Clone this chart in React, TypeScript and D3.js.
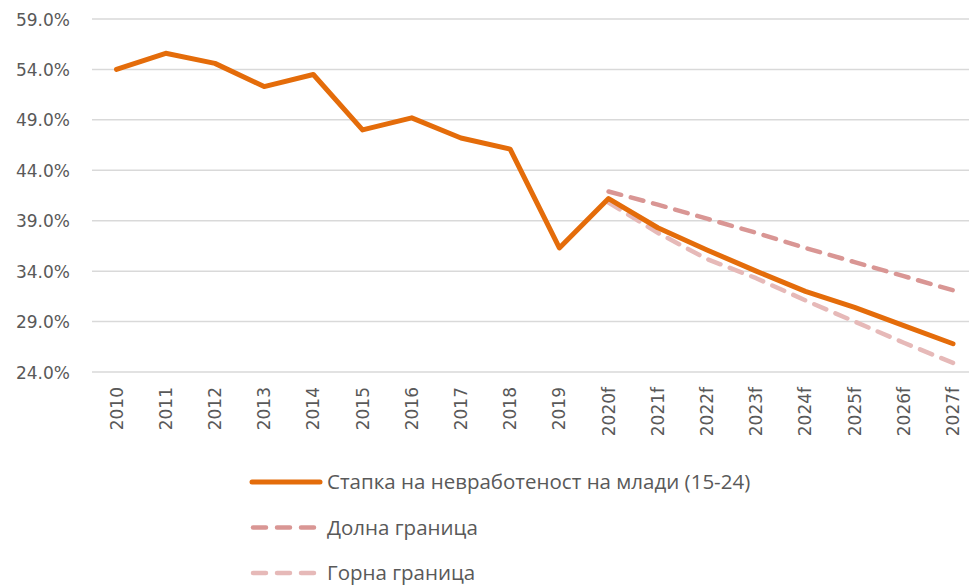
import React, { useRef, useEffect } from 'react';
import * as d3 from 'd3';

// categories (years, f = forecast)
const years = [
  '2010', '2011', '2012', '2013', '2014', '2015', '2016', '2017', '2018',
  '2019', '2020f', '2021f', '2022f', '2023f', '2024f', '2025f', '2026f', '2027f',
];

// youth unemployment rate (15-24), %
const rate = [
  54.0, 55.6, 54.6, 52.3, 53.5, 48.0, 49.2, 47.2, 46.1, 36.3,
  41.2, 38.3, 36.1, 34.0, 32.0, 30.4, 28.6, 26.8,
];

// lower bound (forecast only)
const lowerYears = ['2020f', '2021f', '2022f', '2023f', '2024f', '2025f', '2026f', '2027f'];
const lower = [41.9, 40.6, 39.2, 37.8, 36.3, 34.9, 33.5, 32.1];

// upper bound (forecast only)
const upperYears = ['2020f', '2021f', '2022f', '2023f', '2024f', '2025f', '2026f', '2027f'];
const upper = [40.8, 37.8, 35.2, 33.3, 31.1, 29.0, 26.9, 24.9];

const yTicks = [24, 29, 34, 39, 44, 49, 54, 59];

const legendLabels = [
  'Стапка на невработеност на млади (15-24)',
  'Долна граница',
  'Горна граница',
];

const App = () => {
  const chartRef = useRef(null);

  useEffect(() => {
    const width = 969;
    const height = 588;
    const axisFont = 'DejaVu Sans, sans-serif';
    const textColor = '#595959';

    d3.select(chartRef.current).selectAll('*').remove();

    const svg = d3
      .select(chartRef.current)
      .append('svg')
      .attr('width', width)
      .attr('height', height)
      .style('position', 'absolute')
      .style('left', 0)
      .style('top', 0)
      .style('background', '#fff');

    const x = d3.scalePoint().domain(years).range([116.5, 953]);
    const y = d3.scaleLinear().domain([24, 59]).range([372, 19]);

    // gridlines
    svg
      .append('g')
      .selectAll('line')
      .data(yTicks)
      .join('line')
      .attr('x1', 92)
      .attr('x2', width)
      .attr('y1', (d) => y(d))
      .attr('y2', (d) => y(d))
      .attr('stroke', '#d9d9d9')
      .attr('stroke-width', 1.5);

    // y axis labels
    svg
      .append('g')
      .attr('transform', 'translate(70, 0)')
      .call(d3.axisLeft(y).tickValues(yTicks).tickSize(0).tickPadding(0).tickFormat((d) => d3.format('.1f')(d) + '%'))
      .call((g) => g.select('.domain').remove())
      .call((g) =>
        g.selectAll('text')
          .attr('fill', textColor)
          .attr('font-family', axisFont)
          .attr('font-size', '17px')
          .attr('dy', '0.36em')
      );

    // x axis labels (rotated)
    svg
      .append('g')
      .selectAll('text')
      .data(years)
      .join('text')
      .attr('transform', (d) => `translate(${x(d) + 6}, 387) rotate(-90)`)
      .attr('text-anchor', 'end')
      .attr('fill', textColor)
      .attr('font-family', axisFont)
      .attr('font-size', '17px')
      .text((d) => d);

    const line = d3
      .line()
      .x((d) => x(d[0]))
      .y((d) => y(d[1]));

    const series = [
      { pts: d3.zip(years, rate), color: '#e46c0a', dash: null },
      { pts: d3.zip(lowerYears, lower), color: '#d99694', dash: '13 10' },
      { pts: d3.zip(upperYears, upper), color: '#e6b9b8', dash: '13 10' },
    ];

    // draw the bounds first, main line on top
    [series[2], series[1], series[0]].forEach((s) => {
      svg
        .append('path')
        .datum(s.pts)
        .attr('fill', 'none')
        .attr('stroke', s.color)
        .attr('stroke-width', s.dash ? 4.5 : 5)
        .attr('stroke-linecap', 'round')
        .attr('stroke-linejoin', 'round')
        .attr('stroke-dasharray', s.dash)
        .attr('d', line);
    });

    // legend
    const legend = svg.append('g');
    series.forEach((s, i) => {
      const ly = 482 + i * 45.5;
      legend
        .append('line')
        .attr('x1', s.dash ? 253 : 252)
        .attr('x2', s.dash ? 318 : 320)
        .attr('y1', ly)
        .attr('y2', ly)
        .attr('stroke', s.color)
        .attr('stroke-width', s.dash ? 4.5 : 5)
        .attr('stroke-linecap', 'round')
        .attr('stroke-dasharray', s.dash ? '13 11' : null);
      legend
        .append('text')
        .attr('x', 327)
        .attr('y', ly)
        .attr('dy', '0.35em')
        .attr('fill', textColor)
        .attr('font-family', 'Open Sans, sans-serif')
        .attr('font-size', '20.5px')
        .text(legendLabels[i]);
    });
  }, []);

  return <div ref={chartRef}></div>;
};

export default App;
